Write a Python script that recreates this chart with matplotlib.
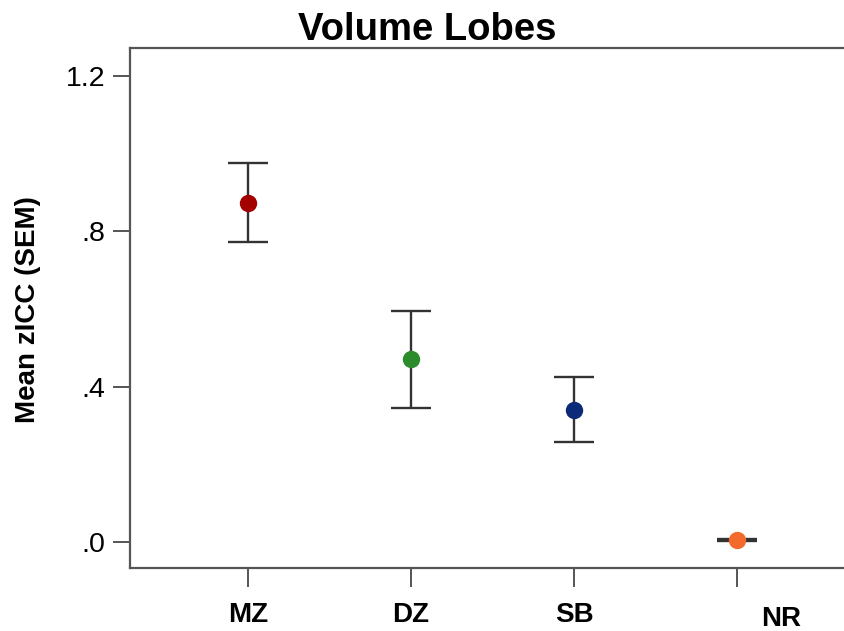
"""
Mean zICC by relationship group, volume of lobes
"""

import matplotlib.pyplot as plt

# Groups and their mean zICC with standard error
groups = ["MZ", "DZ", "SB", "NR"]
means = [0.873, 0.470, 0.340, 0.005]
sems = [0.102, 0.124, 0.084, 0.003]
colors = ["#a30000", "#2c8c2c", "#0b2a78", "#f36b2c"]

y_ticks = [0.0, 0.4, 0.8, 1.2]
y_tick_labels = [".0", ".4", ".8", "1.2"]

plt.rcParams["font.family"] = ["Liberation Sans", "DejaVu Sans"]

fig = plt.figure(figsize=(8.44, 6.31), dpi=100, facecolor="white")
ax = fig.add_axes([0.154, 0.1, 0.846, 0.824])

x = list(range(len(groups)))
for xi, m, s, c in zip(x, means, sems, colors):
    ax.errorbar(
        xi, m, yerr=s, fmt="none", ecolor="#333333", elinewidth=1.7,
        capsize=14.5, capthick=1.7, zorder=2,
    )
    ax.plot(xi, m, "o", color=c, markersize=11.5, zorder=3)

ax.set_xlim(-0.724, 3.656)
ax.set_ylim(-0.067, 1.272)

# Axis styling: left/bottom/top frame in gray, no right edge
for side in ["left", "bottom", "top"]:
    ax.spines[side].set_color("#555555")
    ax.spines[side].set_linewidth(1.6)
ax.spines["right"].set_visible(False)

ax.set_yticks(y_ticks)
ax.set_yticklabels(y_tick_labels, fontsize=20.5)
ax.tick_params(axis="y", length=12, width=1.4, color="#555555", pad=6)

ax.set_xticks(x)
ax.set_xticklabels([])
ax.tick_params(axis="x", length=14, width=1.4, color="#555555")

# Group labels under the ticks; NR sits a little lower and to the right
for xi, g in zip(x[:-1], groups[:-1]):
    ax.text(xi, -0.188, g, ha="center", va="center", fontsize=20,
            fontweight="bold", clip_on=False)
ax.text(x[-1] + 0.27, -0.198, groups[-1], ha="center", va="center",
        fontsize=20, fontweight="bold", clip_on=False)

fig.text(0.033, 0.509, "Mean zICC (SEM)", ha="center", va="center",
         rotation=90, fontsize=20, fontweight="bold")
fig.text(0.506, 1 - 40 / 631, "Volume Lobes", ha="center", va="baseline",
         fontsize=27.5, fontweight="bold")

plt.savefig("out.png", dpi=100, facecolor="white")
plt.close()
